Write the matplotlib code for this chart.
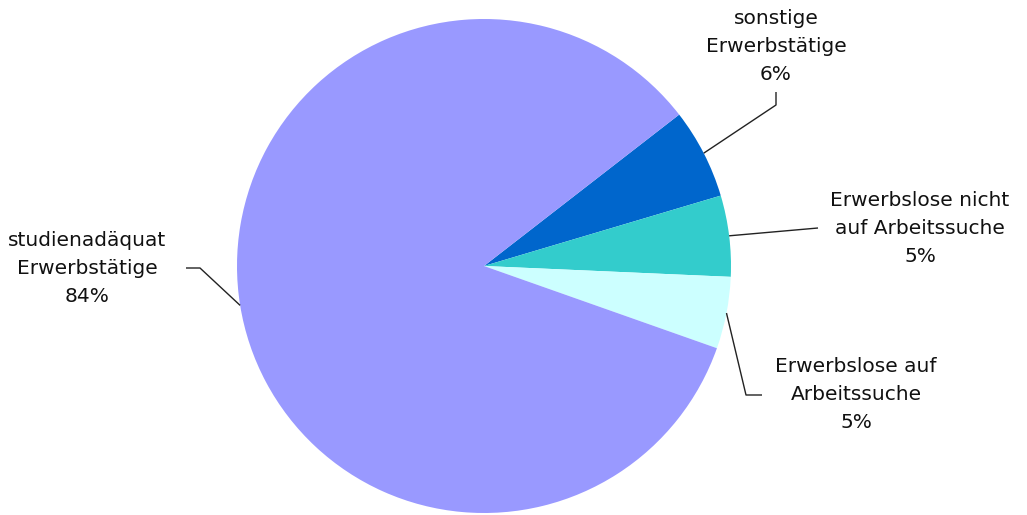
import numpy as np
import matplotlib
matplotlib.use("Agg")
import matplotlib.pyplot as plt

categories = ["sonstige\nErwerbstätige", "Erwerbslose nicht\nauf Arbeitssuche",
              "Erwerbslose auf\nArbeitssuche", "studienadäquat\nErwerbstätige"]
values = [5.9, 5.3, 4.7, 84.1]
pct_labels = ["6%", "5%", "5%", "84%"]
colors = ["#0066CC", "#33CCCC", "#CCFFFF", "#9999FF"]

W, H = 1027, 515
CX, CY, R = 484, 266, 247

def P(x, y):
    return ((x - CX) / R, (CY - y) / R)

fig = plt.figure(figsize=(W / 100, H / 100), dpi=100)
ax = fig.add_axes([0, 0, 1, 1])

wedges, _ = ax.pie(values, colors=colors, startangle=37.8, counterclock=False,
                   radius=1.0, center=(0, 0), frame=True,
                   wedgeprops=dict(linewidth=0))
ax.set_xlim(-CX / R, (W - CX) / R)
ax.set_ylim(-(H - CY) / R, CY / R)
ax.set_aspect("equal")
ax.axis("off")

# layout: (elbow, end, text centre) in pixels
layout = [
    ((776, 105), (776, 92), (776, 47)),
    (None, (818, 228), (920, 228)),
    ((746, 395), (762, 395), (856, 395)),
    ((200, 268), (186, 268), (87, 268)),
]

for w, cat, pct, (elb, end, tc) in zip(wedges, categories, pct_labels, layout):
    ang = np.deg2rad((w.theta1 + w.theta2) / 2)
    ax0, ay0 = np.cos(ang), np.sin(ang)
    pts = [(ax0, ay0)]
    if elb is not None:
        pts.append(P(*elb))
    pts.append(P(*end))
    xs, ys = zip(*pts)
    ax.plot(xs, ys, color="#222222", lw=1.0, solid_capstyle="butt")
    tx, ty = P(*tc)
    ax.text(tx, ty, cat + "\n" + pct, ha="center", va="center",
            fontsize=14.5, family="DejaVu Sans", color="#111111",
            linespacing=1.6)

fig.savefig("out.png", dpi=100)
